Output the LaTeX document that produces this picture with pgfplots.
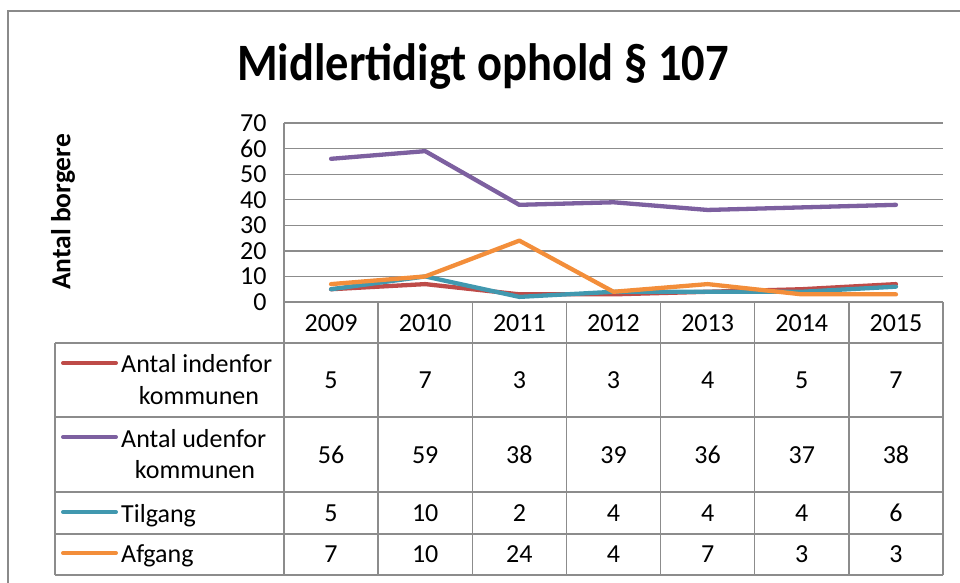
\documentclass[border=0pt]{standalone}
\usepackage{pgfplots}
\pgfplotsset{compat=1.18}
\usepackage{fontspec}
\setmainfont{Carlito}
\definecolor{cred}{HTML}{BE4B48}
\definecolor{cpurple}{HTML}{7D60A0}
\definecolor{cteal}{HTML}{4198AF}
\definecolor{corange}{HTML}{F38E3A}
\definecolor{gridgray}{HTML}{8C8C8C}
\definecolor{framegray}{HTML}{8A8A8A}
\newcommand\tf{\fontsize{26}{31}\selectfont}
\pgfplotstableread{
x inden uden tilgang afgang
0 5 56 5 7
1 7 59 10 10
2 3 38 2 24
3 3 39 4 4
4 4 36 4 7
5 5 37 4 3
6 7 38 6 3
}\datatable
\begin{document}
\begin{tikzpicture}[x=1pt,y=1pt]
\useasboundingbox (0,0) rectangle (960,-582);
\draw[framegray, line width=2.5pt] (8,-700) -- (8,-11) -- (1000,-11);
\node[font=\fontsize{46.5}{56}\selectfont\bfseries, anchor=base, yscale=1.13, transform shape] at (483,-80) {Midlertidigt ophold § 107};
\begin{axis}[
  at={(284pt,-302pt)}, anchor=south west,
  scale only axis, width=659pt, height=179pt,
  xmin=-0.5, xmax=6.5, ymin=0, ymax=70,
  ytick={0,10,...,70}, xtick=\empty,
  ymajorgrids, grid style={gridgray, line width=1.3pt},
  axis line style={draw=none},
  major tick length=0,
  yticklabel style={font=\tf, anchor=east, xshift=-14pt},
  /pgf/number format/assume math mode=true,
  clip=false,
  every axis plot/.append style={line width=4.3pt, line join=round, line cap=round},
]
\addplot[cred] table[x=x, y=inden] {\datatable};
\addplot[cpurple] table[x=x, y=uden] {\datatable};
\addplot[cteal] table[x=x, y=tilgang] {\datatable};
\addplot[corange] table[x=x, y=afgang] {\datatable};
\end{axis}
% y label
\node[font=\fontsize{27.5}{31}\selectfont\bfseries, rotate=90] at (63,-212) {Antal borgere};
% data table grid
\begin{scope}[gridgray, line width=1.3pt]
\draw (284,-123) -- (284,-575);
\draw (284,-302) -- (943,-302);
\foreach \yy in {343,417,492,534,575} \draw (55,-\yy) -- (943,-\yy);
\draw (55,-343) -- (55,-575);
\foreach \k in {1,...,7} \draw ({284+94.143*\k},-302) -- ({284+94.143*\k},-575);
\end{scope}
% year labels
\foreach \yr [count=\k from 0] in {2009,2010,2011,2012,2013,2014,2015}
  \node[font=\tf, inner sep=0, anchor=base] at ({284+94.143*(\k+0.5)},-331) {\yr};
% table values
\foreach \v [count=\k from 0] in {5,7,3,3,4,5,7}
  \node[font=\tf, inner sep=0] at ({284+94.143*(\k+0.5)},-380) {\v};
\foreach \v [count=\k from 0] in {56,59,38,39,36,37,38}
  \node[font=\tf, inner sep=0] at ({284+94.143*(\k+0.5)},-455) {\v};
\foreach \v [count=\k from 0] in {5,10,2,4,4,4,6}
  \node[font=\tf, inner sep=0] at ({284+94.143*(\k+0.5)},-513) {\v};
\foreach \v [count=\k from 0] in {7,10,24,4,7,3,3}
  \node[font=\tf, inner sep=0] at ({284+94.143*(\k+0.5)},-554) {\v};
% legend keys
\begin{scope}[line width=4pt, line cap=round]
\draw[cred] (63,-363) -- (116,-363);
\draw[cpurple] (63,-437) -- (116,-437);
\draw[cteal] (63,-512) -- (116,-512);
\draw[corange] (63,-553) -- (116,-553);
\end{scope}
% legend labels
\node[font=\tf, inner sep=0, anchor=base west] at (121,-372) {Antal indenfor};
\node[font=\tf, inner sep=0, anchor=base] at (199,-404) {kommunen};
\node[font=\tf, inner sep=0, anchor=base west] at (121,-447) {Antal udenfor};
\node[font=\tf, inner sep=0, anchor=base] at (195,-478) {kommunen};
\node[font=\tf, inner sep=0, anchor=base west] at (121,-522) {Tilgang};
\node[font=\tf, inner sep=0, anchor=base west] at (121,-562) {Afgang};
\end{tikzpicture}
\end{document}
